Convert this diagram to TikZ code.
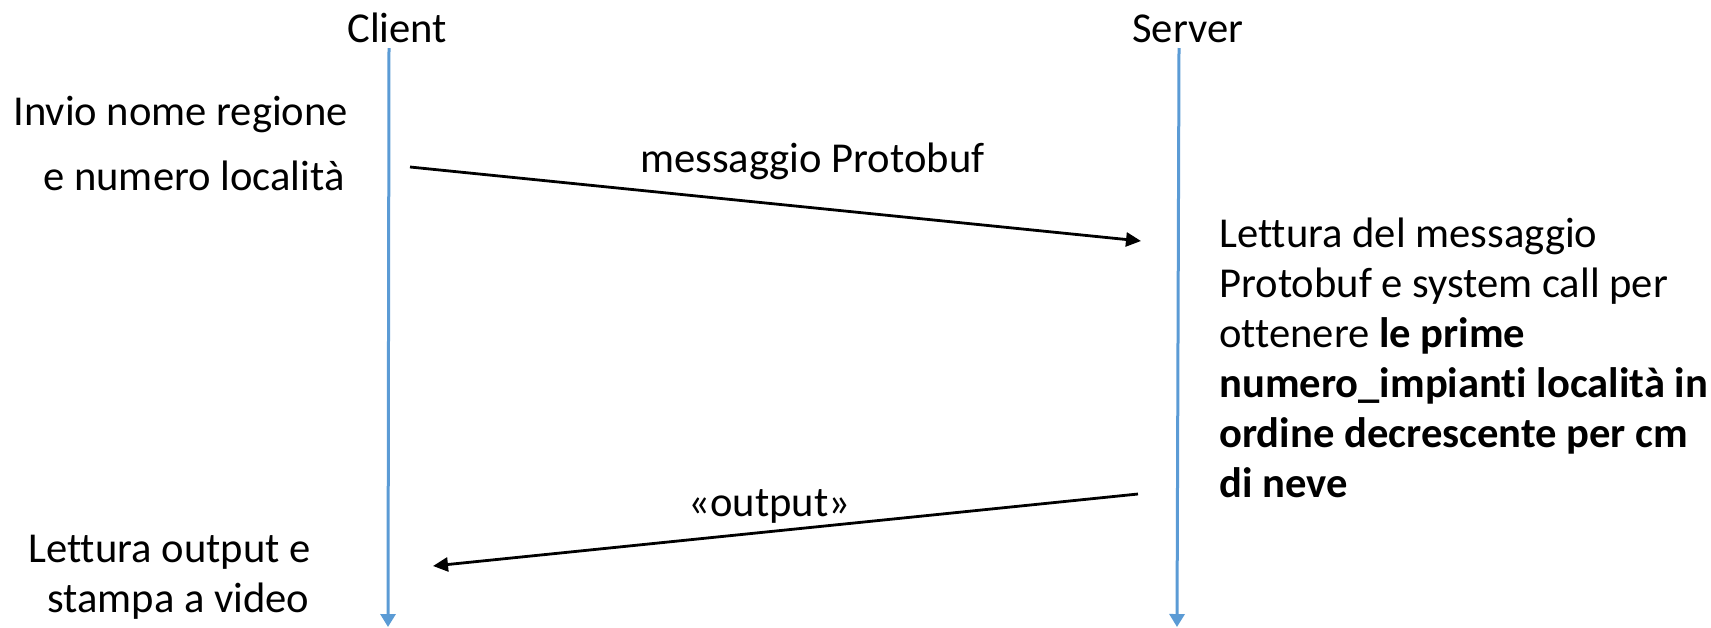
\documentclass[tikz,border=0pt]{standalone}
\usepackage{fontspec}
\setmainfont{Carlito}[Ligatures=NoCommon]
\usepackage{xcolor}
\usepackage{tikz}
\usetikzlibrary{shapes, arrows.meta, positioning}

\definecolor{lifeblue}{HTML}{5B9BD5}

\tikzset{
    lbl/.style={inner sep=0pt, anchor=base west, font=\fontsize{21.3}{25}\selectfont},
    lifeline/.style={draw=lifeblue, line width=1.5pt, -{Triangle[length=6.5pt, width=7.5pt]}},
    msg/.style={draw=black, line width=1.4pt, -{Triangle[length=7.5pt, width=7pt]}}
}

\begin{document}
\begin{tikzpicture}[x=0.5pt, y=-0.5pt]
            \useasboundingbox (0,0) rectangle (1711,627);

            \node[lbl] (client) at (347,42) {Client};
            \node[lbl] (server) at (1132,42) {Server};

            \coordinate (clienttop) at (389,48);
            \coordinate (clientbot) at (388,627);
            \coordinate (servertop) at (1179,48);
            \coordinate (serverbot) at (1177,627);
            \draw[lifeline] (clienttop) -- (clientbot);
            \draw[lifeline] (servertop) -- (serverbot);

            \node[lbl] (invio1) at (13,125) {Invio nome regione};
            \node[lbl] (invio2) at (43,190) {e numero località};

            \coordinate (reqstart) at (410,167);
            \coordinate (reqend) at (1141,241);
            \draw[msg] (reqstart) -- (reqend);
            \node[lbl] (reqlabel) at (640,172) {messaggio Protobuf};

            % base of a multi-line node sits on its last line
            \node[lbl, align=left] (lettura) at (1219,497) {Lettura del messaggio\\
                Protobuf e system call per\\
                ottenere \textbf{le prime}\\
                \textbf{numero\_impianti località in}\\
                \textbf{ordine decrescente per cm}\\
                \textbf{di neve}};

            \coordinate (respstart) at (1138,494);
            \coordinate (respend) at (433,566);
            \draw[msg] (respstart) -- (respend);
            \node[lbl] (resplabel) at (688,516) {«output»};

            \node[lbl] (stampa1) at (28,562) {Lettura output e};
            \node[lbl] (stampa2) at (47,612) {stampa a video};
        \end{tikzpicture}
\end{document}
